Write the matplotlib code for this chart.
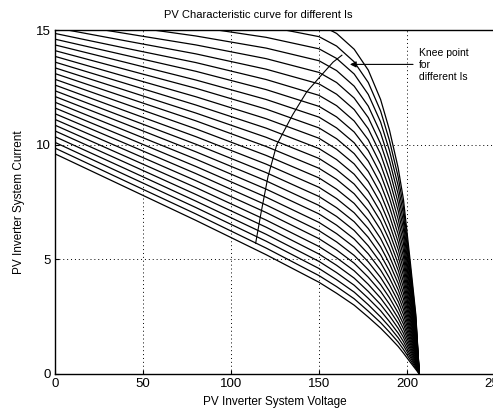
import matplotlib
matplotlib.use("Agg")
import matplotlib.pyplot as plt

# --- dados ---
voltage = [0, 40, 80, 120, 150, 160, 170, 178, 185, 190, 195, 198, 202, 205, 207]

# uma linha por curva (corrente para cada tensao acima)
currents = [
    [9.60, 8.15, 6.70, 5.20, 4.00, 3.52, 3.00, 2.48, 2.00, 1.61, 1.20, 0.91, 0.50, 0.20, 0],
    [9.85, 8.41, 6.98, 5.49, 4.29, 3.81, 3.28, 2.74, 2.24, 1.83, 1.39, 1.07, 0.60, 0.26, 0],
    [10.10, 8.68, 7.26, 5.79, 4.60, 4.11, 3.57, 3.02, 2.49, 2.06, 1.58, 1.24, 0.71, 0.32, 0],
    [10.35, 8.95, 7.54, 6.09, 4.91, 4.42, 3.87, 3.30, 2.76, 2.29, 1.78, 1.41, 0.81, 0.38, 0],
    [10.60, 9.22, 7.83, 6.40, 5.23, 4.74, 4.18, 3.60, 3.03, 2.54, 1.99, 1.59, 0.93, 0.44, 0],
    [10.85, 9.49, 8.13, 6.71, 5.56, 5.07, 4.50, 3.91, 3.31, 2.79, 2.21, 1.77, 1.05, 0.51, 0],
    [11.10, 9.77, 8.43, 7.04, 5.90, 5.41, 4.83, 4.22, 3.60, 3.05, 2.43, 1.97, 1.17, 0.57, 0],
    [11.35, 10.05, 8.74, 7.37, 6.25, 5.76, 5.17, 4.55, 3.90, 3.33, 2.66, 2.17, 1.30, 0.64, 0],
    [11.60, 10.33, 9.05, 7.71, 6.61, 6.12, 5.53, 4.89, 4.21, 3.61, 2.91, 2.37, 1.43, 0.72, 0],
    [11.85, 10.61, 9.37, 8.06, 6.98, 6.49, 5.89, 5.24, 4.53, 3.90, 3.16, 2.59, 1.57, 0.79, 0],
    [12.10, 10.90, 9.69, 8.42, 7.35, 6.87, 6.26, 5.59, 4.86, 4.19, 3.41, 2.81, 1.71, 0.87, 0],
    [12.35, 11.18, 10.02, 8.78, 7.74, 7.25, 6.64, 5.96, 5.20, 4.50, 3.67, 3.03, 1.85, 0.95, 0],
    [12.60, 11.47, 10.35, 9.15, 8.14, 7.65, 7.03, 6.34, 5.55, 4.82, 3.95, 3.27, 2.00, 1.04, 0],
    [12.85, 11.77, 10.69, 9.53, 8.55, 8.06, 7.44, 6.72, 5.91, 5.14, 4.23, 3.51, 2.16, 1.12, 0],
    [13.10, 12.07, 11.04, 9.92, 8.97, 8.49, 7.86, 7.13, 6.29, 5.49, 4.52, 3.76, 2.32, 1.21, 0],
    [13.35, 12.37, 11.38, 10.32, 9.40, 8.91, 8.28, 7.54, 6.67, 5.83, 4.81, 4.01, 2.48, 1.31, 0],
    [13.60, 12.67, 11.73, 10.72, 9.83, 9.35, 8.71, 7.96, 7.05, 6.18, 5.12, 4.27, 2.65, 1.40, 0],
    [13.85, 12.97, 12.09, 11.13, 10.28, 9.80, 9.16, 8.39, 7.45, 6.54, 5.43, 4.54, 2.82, 1.50, 0],
    [14.10, 13.28, 12.46, 11.55, 10.73, 10.26, 9.61, 8.83, 7.86, 6.91, 5.75, 4.82, 3.00, 1.59, 0],
    [14.35, 13.59, 12.82, 11.97, 11.20, 10.73, 10.08, 9.28, 8.28, 7.29, 6.08, 5.10, 3.18, 1.69, 0],
    [14.60, 13.90, 13.20, 12.40, 11.67, 11.21, 10.55, 9.74, 8.71, 7.68, 6.41, 5.39, 3.37, 1.80, 0],
    [14.85, 14.21, 13.58, 12.84, 12.15, 11.70, 11.03, 10.21, 9.14, 8.07, 6.75, 5.69, 3.56, 1.91, 0],
    [15.10, 14.53, 13.96, 13.29, 12.65, 12.20, 11.53, 10.69, 9.59, 8.48, 7.11, 5.99, 3.75, 2.02, 0],
    [15.35, 14.85, 14.35, 13.75, 13.15, 12.71, 12.03, 11.18, 10.04, 8.90, 7.46, 6.30, 3.95, 2.13, 0],
    [15.60, 15.17, 14.74, 14.21, 13.66, 13.23, 12.55, 11.68, 10.51, 9.32, 7.83, 6.61, 4.15, 2.24, 0],
    [15.85, 15.50, 15.14, 14.68, 14.18, 13.76, 13.08, 12.19, 10.99, 9.75, 8.20, 6.94, 4.36, 2.36, 0],
    [16.10, 15.82, 15.55, 15.16, 14.71, 14.30, 13.61, 12.71, 11.47, 10.19, 8.59, 7.27, 4.57, 2.48, 0],
    [16.35, 16.15, 15.96, 15.65, 15.25, 14.85, 14.16, 13.25, 11.97, 10.65, 8.98, 7.60, 4.79, 2.60, 0],
]

# lugar geometrico dos pontos de joelho
knee_v = [114, 117, 121, 126, 135, 143, 151, 158, 163]
knee_i = [5.7, 7.0, 8.6, 10.0, 11.3, 12.3, 13.0, 13.6, 13.9]

x_ticks = [0, 50, 100, 150, 200, 250]
y_ticks = [0, 5, 10, 15]

plt.rcParams['font.family'] = ['Liberation Sans', 'DejaVu Sans']

fig = plt.figure(figsize=(4.93, 4.12), dpi=100)
ax = fig.add_axes([55/493, 38/412, 440/493, 344/412])

for row in currents:
    ax.plot(voltage, row, color='black', lw=0.9)

ax.plot(knee_v, knee_i, color='black', lw=0.8)

# seta + texto
ax.annotate('', xy=(166, 13.5), xytext=(205, 13.5),
            arrowprops=dict(arrowstyle='-|>', color='black', lw=0.8, mutation_scale=9))
ax.text(207, 14.2, 'Knee point\nfor\ndifferent Is', fontsize=7.5,
        va='top', ha='left', linespacing=1.25)

ax.set_xlim(0, 250)
ax.set_ylim(0, 15)
ax.set_xticks(x_ticks)
ax.set_yticks(y_ticks)
ax.tick_params(direction='in', labelsize=9.5, length=3, pad=3)
ax.grid(True, color='black', linestyle=(0, (1, 3)), lw=0.7)
for s in ax.spines.values():
    s.set_linewidth(1.0)

fig.text(258/493, 1 - 15/412, 'PV Characteristic curve for different Is',
         ha='center', va='center', fontsize=8)
ax.set_xlabel('PV Inverter System Voltage', fontsize=8.5, labelpad=4)
ax.set_ylabel('PV Inverter System Current', fontsize=8.5, labelpad=8)

fig.savefig('out.png', dpi=100)
